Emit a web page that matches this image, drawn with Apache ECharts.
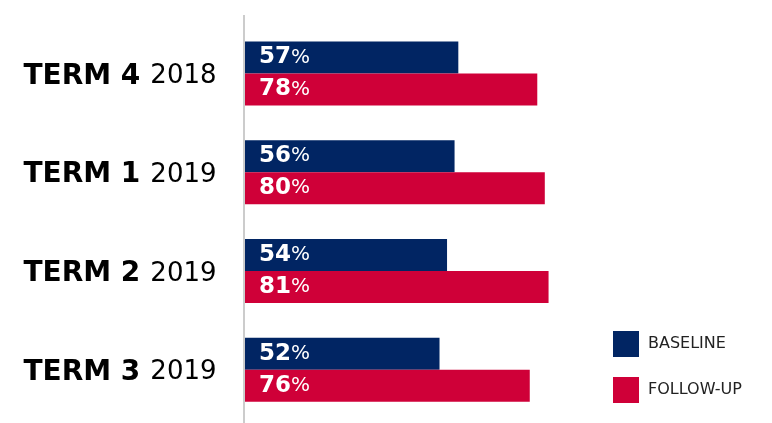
<!DOCTYPE html>
<html>
<head>
<meta charset="utf-8">
<script src="https://cdn.jsdelivr.net/npm/echarts@6/dist/echarts.min.js"></script>
<style>html,body{margin:0;padding:0;background:#fff}#c{width:772px;height:423px}</style>
</head>
<body>
<div id="c"></div>
<script>
const terms = ['TERM 4', 'TERM 1', 'TERM 2', 'TERM 3'];
const years = ['2018', '2019', '2019', '2019'];
const baseline = [57, 56, 54, 52];
const followUp = [78, 80, 81, 76];
const seriesNames = ['BASELINE', 'FOLLOW-UP'];

const categories = terms.map((t, i) => t + '|' + years[i]);
const FONT = '"DejaVu Sans", sans-serif';
const NAVY = '#012563';
const RED = '#CF0038';

const labelCfg = {
  show: true,
  position: 'insideLeft',
  distance: 15,
  formatter: p => '{b|' + p.value + '}{p|%}',
  rich: {
    b: { color: '#fff', fontFamily: FONT, fontWeight: 'bold', fontSize: 23 },
    p: { color: '#fff', fontFamily: FONT, fontWeight: 'normal', fontSize: 20 }
  }
};

const chart = echarts.init(document.getElementById('c'), null, { renderer: 'canvas' });
chart.setOption({
  animation: false,
  backgroundColor: '#fff',
  grid: { left: 244, right: 152, top: 24, bottom: 4 },
  xAxis: { type: 'value', min: 0, max: 100, show: false },
  yAxis: {
    type: 'category',
    inverse: true,
    data: categories,
    axisLine: { show: false },
    axisTick: { show: false },
    axisLabel: {
      margin: 124,
      align: 'center',
      padding: [6, 0, 0, 0],
      formatter: v => { const [a, b] = v.split('|'); return '{t|' + a + '}{y|' + b + '}'; },
      rich: {
        t: { fontFamily: FONT, fontWeight: 'bold', fontSize: 28, color: '#000' },
        y: { fontFamily: FONT, fontWeight: 'normal', fontSize: 26, color: '#000', padding: [0, 0, 0, 10] }
      }
    }
  },
  legend: {
    orient: 'vertical',
    left: 613,
    top: 331,
    padding: 0,
    itemWidth: 26,
    itemHeight: 26,
    itemGap: 20,
    icon: 'rect',
    textStyle: { fontFamily: FONT, fontSize: 16, color: '#222', padding: [0, 0, 0, 4] },
    data: seriesNames
  },
  graphic: [{
    type: 'line',
    shape: { x1: 244, y1: 15, x2: 244, y2: 423 },
    style: { stroke: '#cccccc', lineWidth: 2 },
    z: 10
  }],
  series: [
    { name: seriesNames[0], type: 'bar', data: baseline, barWidth: 32, barGap: '0%', itemStyle: { color: NAVY }, label: labelCfg },
    { name: seriesNames[1], type: 'bar', data: followUp, barWidth: 32, barGap: '0%', itemStyle: { color: RED }, label: labelCfg }
  ]
});
</script>
</body>
</html>
